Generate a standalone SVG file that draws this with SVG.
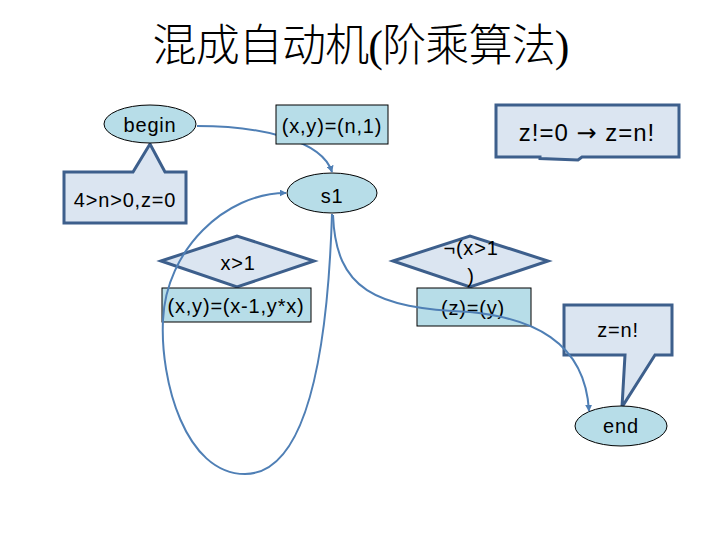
<svg xmlns="http://www.w3.org/2000/svg" width="720" height="540" viewBox="0 0 720 540">
<defs>
<style>
.t{font-family:"Liberation Sans",Arial,sans-serif;font-size:20px;fill:#000;text-anchor:middle;letter-spacing:0.8px}
.node{fill:#b7dde8;stroke:#000;stroke-width:1}
.call{fill:#dbe5f1;stroke:#3d5f8c;stroke-width:3;stroke-linejoin:miter}
.edge{fill:none;stroke:#4f7fb5;stroke-width:2}
</style>
<marker id="arr" viewBox="0 0 10 10" refX="9" refY="5" markerWidth="7" markerHeight="7" markerUnits="userSpaceOnUse" orient="auto">
<path d="M0,0 L10,5 L0,10 Z" fill="#4f7fb5"/>
</marker>
</defs>
<rect width="720" height="540" fill="#fff"/>
<text x="361" y="61" font-family="Liberation Serif,'Noto Sans CJK SC',serif" font-size="44" font-weight="300" text-anchor="middle" textLength="417" lengthAdjust="spacing">混成自动机(阶乘算法)</text>

<g id="cond-init">
<path class="call" d="M64,172 H133 L150,144 L165,172 H186 V223 H64 Z"/>
<text class="t" x="125" y="206.5">4&gt;n&gt;0,z=0</text>
</g>
<g id="note-z">
<path class="call" d="M496,105 H679 V157 H582 L578,160 L540,158.5 V157 H496 Z"/>
<text class="t" x="587" y="141" style="font-size:24px;letter-spacing:1px">z!=0 <tspan font-family="DejaVu Sans,sans-serif">→</tspan> z=n!</text>
</g>
<g id="cond-end">
<path class="call" d="M564,305 H672 V355 H655 L622,407 L625,355 H564 Z"/>
<text class="t" x="618" y="337">z=n!</text>
</g>
<g id="begin">
<ellipse class="node" cx="150" cy="124" rx="46" ry="19"/>
<text class="t" x="150" y="132">begin</text>
</g>
<g id="s1">
<ellipse class="node" cx="332" cy="193" rx="45" ry="20"/>
<text class="t" x="332" y="202.5">s1</text>
</g>
<g id="end">
<ellipse class="node" cx="621" cy="426" rx="46" ry="20"/>
<text class="t" x="621" y="433">end</text>
</g>
<g id="guard-loop">
<path class="call" d="M161,261 L237,236 L314,261 L237,287 Z"/>
<text class="t" x="238" y="270">x&gt;1</text>
</g>
<g id="reset-loop">
<rect class="node" x="162" y="288" width="149" height="34"/>
<text class="t" x="236" y="313">(x,y)=(x-1,y*x)</text>
</g>
<g id="guard-exit">
<path class="call" d="M393,261 L470,236 L548,261 L470,287 Z"/>
<text class="t" x="471" y="255">¬(x&gt;1</text>
<text class="t" x="471" y="283">)</text>
</g>
<g id="reset-exit">
<rect class="node" x="417" y="288" width="114" height="38"/>
<text class="t" x="473" y="315">(z)=(y)</text>
</g>

<g id="connectors">
<path class="edge" d="M197,126 C260,126 322,140 332,172" marker-end="url(#arr)"/>
<path class="edge" d="M332,214 C328,340 310,474 245,474 C185,474 160,380 163,320 C166,250 225,193 286,193" marker-end="url(#arr)"/>
<path class="edge" d="M333,215 C336,290 375,308 470,312 C530,318 585,340 589,411" marker-end="url(#arr)"/>
</g>

<g id="init-assign">
<rect class="node" x="276" y="105" width="112" height="39"/>
<text class="t" x="332" y="133">(x,y)=(n,1)</text>
</g>
</svg>
